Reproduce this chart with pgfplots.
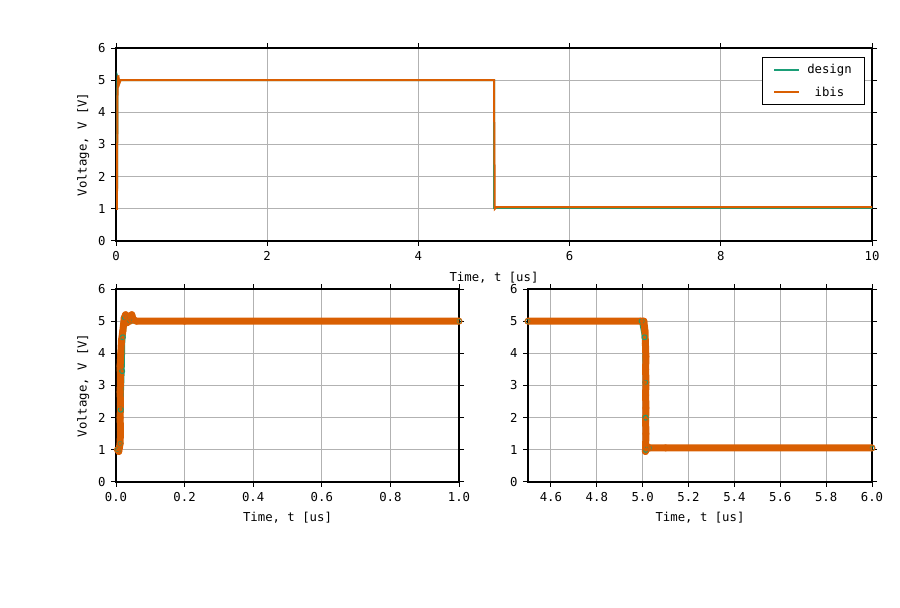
\documentclass[border=0pt]{standalone}
\usepackage{fontspec}
\setmainfont{DejaVu Sans Mono}
\usepackage{pgfplots}
\pgfplotsset{compat=1.18}
\definecolor{dgreen}{HTML}{1B9E77}
\definecolor{dorange}{HTML}{D95F02}
\newcommand{\fs}{\fontsize{12.3}{14}\selectfont}
\pgfplotsset{
  myax/.style={
    scale only axis,
    anchor=south west,
    ymin=0, ymax=6, ytick={0,1,2,3,4,5,6},
    grid=major,
    major grid style={color=black!30, line width=0.9pt},
    axis line style={line width=1.3pt},
    tick align=outside,
    major tick length=5pt,
    tick style={black, line width=1pt},
    /pgf/number format/assume math mode=true,
    tick label style={font=\fs},
    xticklabel style={yshift=-2pt},
    yticklabel style={xshift=-2pt},
    label style={font=\fs},
    ylabel style={yshift=2pt},
    xlabel={Time, t [us]},
    xlabel style={yshift=-3pt},
    clip=true,
  },
  fixone/.style={xticklabel style={/pgf/number format/.cd, fixed, fixed zerofill, precision=1}},
}
\begin{document}
\begin{tikzpicture}[x=1pt,y=1pt]
\path (0,0) rectangle (900,608);
% ---------- top axis ----------
\begin{axis}[myax,
  at={(116pt,367pt)}, width=756pt, height=193pt,
  xmin=0, xmax=10, xtick={0,2,4,6,8,10},
  ylabel={Voltage, V [V]},
  xlabel style={yshift=-1pt},
  legend style={at={(rel axis cs:0.991,0.955)}, anchor=north east, draw=black, line width=1pt, font=\fs, row sep=8pt, column sep=5pt, inner xsep=11pt, inner ysep=5pt},
  legend cell align=center,
  legend image code/.code={\draw[#1, line width=2pt] (0pt,0pt) -- (25pt,0pt);},
]
\addplot[dgreen, line width=2pt] coordinates {
(0,1.0) (0.012,1.0) (0.02,5.1) (0.035,5.0) (5.0,5.0) (5.0,1.03) (10,1.03)};
\addlegendentry{design}
\addplot[dorange, line width=2pt] coordinates {
(0,1.0) (0.012,1.0) (0.02,4.6) (0.03,5.15) (0.045,4.9) (0.06,5.0) (5.0,5.0) (5.01,1.0) (5.03,1.05) (10,1.05)};
\addlegendentry{ibis}
\end{axis}
% ---------- bottom-left axis ----------
\begin{axis}[myax, fixone,
  at={(116pt,126pt)}, width=343pt, height=193pt,
  xmin=0, xmax=1, xtick={0,0.2,0.4,0.6,0.8,1.0},
  ylabel={Voltage, V [V]},
]
\addplot[dgreen, line width=5pt, line join=round, mark=o, mark size=2.5pt, mark options={line width=1pt}] coordinates {
(0.006,1.0) (0.012,1.2) (0.014,2.25) (0.018,3.45) (0.02,4.5) (0.026,5.1) (0.04,5.0) (1.0,5.0)};
\addplot[dorange, line width=7pt, line join=round, mark=o, mark size=3pt, mark options={line width=1pt}] coordinates {
(0.004,1.0) (0.008,0.95) (0.012,1.2) (0.013,1.6) (0.012,2.0) (0.013,2.4) (0.012,2.8) (0.013,3.2) (0.012,3.6) (0.014,4.0) (0.016,4.4) (0.02,4.7) (0.024,5.1) (0.028,5.2) (0.032,4.95) (0.036,5.15) (0.04,5.0) (0.046,5.2) (0.05,5.05) (0.06,5.0) (0.2,5.0) (1.0,5.0)};
\end{axis}
% ---------- bottom-right axis ----------
\begin{axis}[myax, fixone,
  at={(528pt,126pt)}, width=344pt, height=193pt,
  xmin=4.5, xmax=6.0, xtick={4.6,4.8,5.0,5.2,5.4,5.6,5.8,6.0},
]
\addplot[dgreen, line width=5pt, line join=round, mark=o, mark size=2.5pt, mark options={line width=1pt}] coordinates {
(4.5,5.0) (4.995,5.0) (5.008,4.5) (5.012,3.1) (5.013,2.0) (5.014,1.0) (5.03,1.05) (6.0,1.05)};
\addplot[dorange, line width=7pt, line join=round, mark=o, mark size=3pt, mark options={line width=1pt}] coordinates {
(4.5,5.0) (4.99,5.0) (5.005,5.0) (5.01,4.7) (5.012,4.3) (5.014,3.9) (5.013,3.5) (5.014,3.1) (5.013,2.7) (5.014,2.3) (5.013,1.9) (5.014,1.5) (5.013,1.1) (5.012,0.95) (5.02,1.1) (5.03,1.06) (5.1,1.06) (6.0,1.06)};
\end{axis}
\end{tikzpicture}
\end{document}
